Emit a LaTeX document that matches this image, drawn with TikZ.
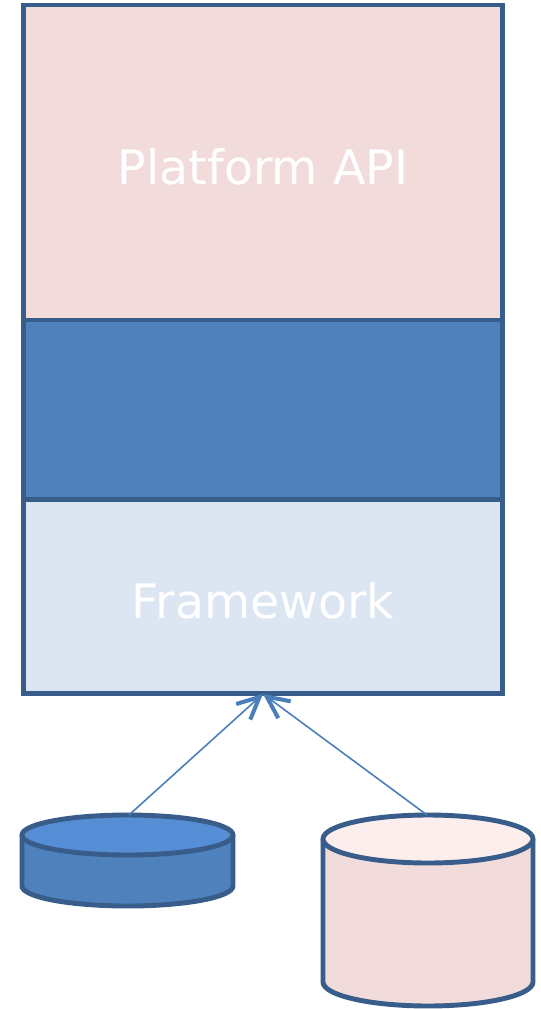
\documentclass[tikz,border=0pt]{standalone}
\usepackage{fontspec}
\usepackage{xcolor}
\usepackage{tikz}
\usetikzlibrary{positioning,arrows.meta}
\newfontfamily\labelfont{DejaVu Sans}

\definecolor{edge}{HTML}{385D8A}
\definecolor{apipink}{HTML}{F2DCDB}
\definecolor{midblue}{HTML}{4F81BD}
\definecolor{fwblue}{HTML}{DCE6F2}
\definecolor{linkblue}{HTML}{4A7EBB}
\definecolor{dbtopblue}{HTML}{558ED5}
\definecolor{dbtoppink}{HTML}{FDEEEE}

\begin{document}
\begin{tikzpicture}[
  x=0.02cm, y=-0.02cm,
  layer/.style={rectangle, draw=edge, line width=2.8pt, minimum width=9.6cm, inner sep=0pt, outer sep=0pt, text height=24.5pt, text depth=0pt, font=\labelfont\fontsize{27}{32}\selectfont, text=white},
  link/.style={draw=linkblue, line width=0.9pt, -{Straight Barb[length=4.4mm,width=4.2mm,line width=2.3pt]}},
  db/.style={draw=edge, line width=2.8pt, line join=round}
]
\useasboundingbox (0,0) rectangle (541,1009);

% the stack
\node[layer, fill=apipink, minimum height=6.3cm] (api) at (263,162.5) {Platform API};
\node[layer, fill=midblue, minimum height=3.6cm, below=0pt of api] (mid) {};
\node[layer, fill=fwblue, minimum height=3.88cm, below=0pt of mid] (fw) {Framework};

% small store
\fill[midblue] (22,835) -- (22,886) arc[start angle=180, end angle=0, x radius=105.5, y radius=20] -- (233,835) -- cycle;
\draw[db] (22,835) -- (22,886) arc[start angle=180, end angle=0, x radius=105.5, y radius=20] -- (233,835);
\draw[db, fill=dbtopblue] (127.5,835) ellipse [x radius=105.5, y radius=20];
\coordinate (dbsmall) at (129,815);

% big store
\fill[apipink] (323,839) -- (323,982) arc[start angle=180, end angle=0, x radius=105, y radius=24] -- (533,839) -- cycle;
\draw[db] (323,839) -- (323,982) arc[start angle=180, end angle=0, x radius=105, y radius=24] -- (533,839);
\draw[db, fill=dbtoppink] (428,839) ellipse [x radius=105, y radius=24];
\coordinate (dbbig) at (427,815);

\draw[link] (dbsmall) -- (fw.south);
\draw[link] (dbbig) -- (fw.south);
\end{tikzpicture}
\end{document}
